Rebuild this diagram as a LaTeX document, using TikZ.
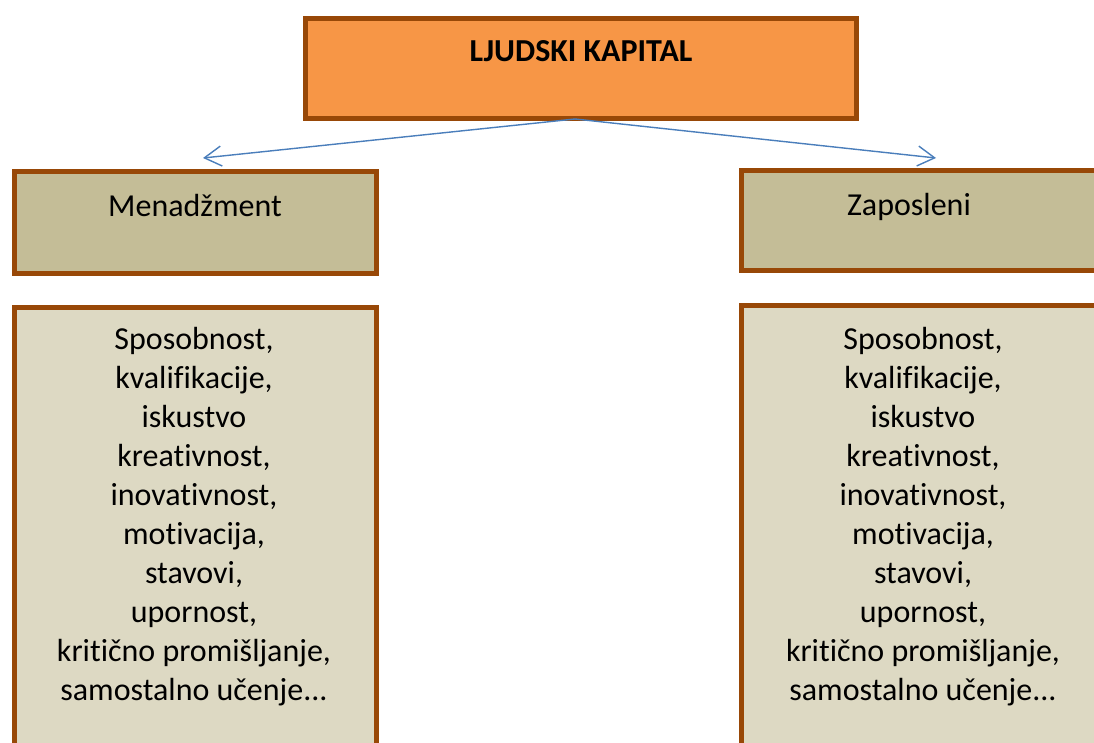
\documentclass[tikz,border=0pt]{standalone}
\usepackage{fontspec}
\setmainfont[Ligatures={NoCommon}]{Carlito}
\usetikzlibrary{arrows.meta}
\definecolor{brd}{HTML}{984807}
\definecolor{topfill}{HTML}{F79646}
\definecolor{hdrfill}{HTML}{C4BD97}
\definecolor{bodyfill}{HTML}{DDD9C3}
\definecolor{arr}{HTML}{4A7EBB}
\tikzset{
  box/.style={draw=brd, line width=5pt, rectangle},
  txt/.style={font=\fontsize{32}{39}\selectfont, align=center, inner sep=0pt},
  conn/.style={draw=arr, line width=1.4pt, -{Straight Barb[length=17pt,width=20pt,line width=1.4pt]}}
}
\begin{document}
\begin{tikzpicture}[x=1pt,y=-1pt]
\useasboundingbox (0,0) rectangle (1094,743);
\clip (0,0) rectangle (1094,743);
% boxes
\node[box, fill=topfill, minimum width=551pt, minimum height=100pt] (top) at (581,68.5) {};
\node[box, fill=hdrfill, minimum width=362pt, minimum height=101pt] (lh) at (195,222.5) {};
\node[box, fill=hdrfill, minimum width=362pt, minimum height=99pt] (rh) at (922,220.5) {};
\node[box, fill=bodyfill, minimum width=362pt, minimum height=480pt] (lb) at (195,547) {};
\node[box, fill=bodyfill, minimum width=362pt, minimum height=480pt] (rb) at (922,545) {};
% texts
\node[txt, font=\fontsize{32}{39}\selectfont\bfseries] (toptxt) at (581,51) {LJUDSKI KAPITAL};
\node[txt] (lhtxt) at (195,206) {Menadžment};
\node[txt] (rhtxt) at (909,207) {Zaposleni};
\node[txt, anchor=north] (lbtxt) at (194,327) {Sposobnost,\\kvalifikacije,\\iskustvo\\kreativnost,\\inovativnost,\\motivacija,\\stavovi,\\upornost,\\kritično promišljanje,\\samostalno učenje...};
\node[txt, anchor=north] (rbtxt) at (923,327) {Sposobnost,\\kvalifikacije,\\iskustvo\\kreativnost,\\inovativnost,\\motivacija,\\stavovi,\\upornost,\\kritično promišljanje,\\samostalno učenje...};
% connectors
\coordinate (src) at (575,119);
\coordinate (lend) at (203,158);
\coordinate (rend) at (936,158);
\draw[conn] (src) -- (lend);
\draw[conn] (src) -- (rend);
\end{tikzpicture}
\end{document}
